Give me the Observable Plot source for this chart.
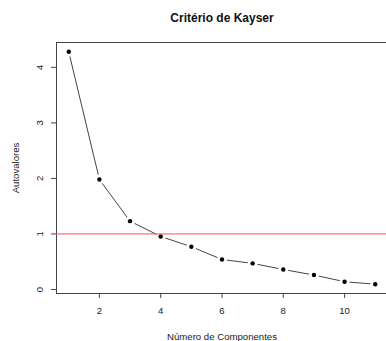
<!DOCTYPE html>
<html>
<head>
<meta charset="utf-8">
<script src="https://cdn.jsdelivr.net/npm/d3@7"></script>
<script src="https://cdn.jsdelivr.net/npm/@observablehq/plot@0.6"></script>
<style>
  html, body { margin: 0; padding: 0; background: #fff; overflow: hidden; }
  svg { display: block; }
</style>
</head>
<body>
<div id="chart"></div>
<script>
const components = [1, 2, 3, 4, 5, 6, 7, 8, 9, 10, 11];
const eigenvalues = [4.28, 1.98, 1.23, 0.955, 0.77, 0.54, 0.47, 0.36, 0.26, 0.14, 0.095];
const xTicks = [2, 4, 6, 8, 10];
const yTicks = [0, 1, 2, 3, 4];
const kaiserThreshold = 1;
const titleText = "Critério de Kayser";
const xLabel = "Número de Componentes";
const yLabel = "Autovalores";

const data = components.map((c, i) => ({comp: c, value: eigenvalues[i]}));

const font = "'Liberation Sans', Arial, sans-serif";
const textColor = "#222";
const axisColor = "#444";

const xDom = [0.6, 11.4];
const yMin = d3.min(eigenvalues), yMax = d3.max(eigenvalues);
const pad = (yMax - yMin) * 0.04;
const yDom = [yMin - pad, yMax + pad];

const chart = Plot.plot({
  width: 386,
  height: 341,
  marginLeft: 56,
  marginRight: 0,
  marginTop: 42,
  marginBottom: 48,
  style: {fontFamily: font, fontSize: "9.6px", color: textColor, background: "#fff"},
  x: {domain: xDom, range: [56, 387], axis: null},
  y: {domain: yDom, axis: null},
  marks: [
    // box (top, bottom, left) — right side falls outside the picture
    Plot.ruleY([yDom[1], yDom[0]], {x1: xDom[0], x2: xDom[1], stroke: axisColor, strokeWidth: 1}),
    Plot.ruleX([xDom[0]], {y1: yDom[0], y2: yDom[1], stroke: axisColor, strokeWidth: 1}),
    // axes ticks
    Plot.axisX({ticks: xTicks, tickSize: 5, tickPadding: 9, stroke: axisColor, fill: textColor, fontSize: 9.6, label: null}),
    Plot.axisY({ticks: yTicks, tickSize: 5, tickFormat: () => "", stroke: axisColor, label: null}),
    Plot.text(yTicks, {y: d => d, text: d => String(d), frameAnchor: "left", dx: -17, rotate: -90, textAnchor: "middle", lineAnchor: "middle", fill: textColor, fontSize: 9.6}),
    // series (type = "b")
    Plot.line(data, {x: "comp", y: "value", stroke: axisColor, strokeWidth: 1}),
    Plot.dot(data, {x: "comp", y: "value", r: 5, fill: "white", stroke: "none"}),
    Plot.dot(data, {x: "comp", y: "value", r: 2.2, fill: "black", stroke: "none"}),
    // Kaiser threshold
    Plot.ruleY([kaiserThreshold], {x1: xDom[0], x2: xDom[1], stroke: "#ff4d4d", strokeWidth: 1}),
    // titles
    Plot.text([titleText], {frameAnchor: "top", x: () => (xDom[0] + xDom[1]) / 2, dy: -24, text: d => d, fontWeight: "bold", fontSize: 12, fill: "#111", lineAnchor: "middle"}),
    Plot.text([xLabel], {frameAnchor: "bottom", x: () => (xDom[0] + xDom[1]) / 2, dy: 43, text: d => d, fontSize: 9.6, fill: textColor, lineAnchor: "middle"}),
    Plot.text([yLabel], {frameAnchor: "left", y: () => (yDom[0] + yDom[1]) / 2, dx: -41, rotate: -90, text: d => d, fontSize: 9.6, fill: textColor, lineAnchor: "middle", textAnchor: "middle"})
  ]
});
document.getElementById("chart").appendChild(chart);
</script>
</body>
</html>
